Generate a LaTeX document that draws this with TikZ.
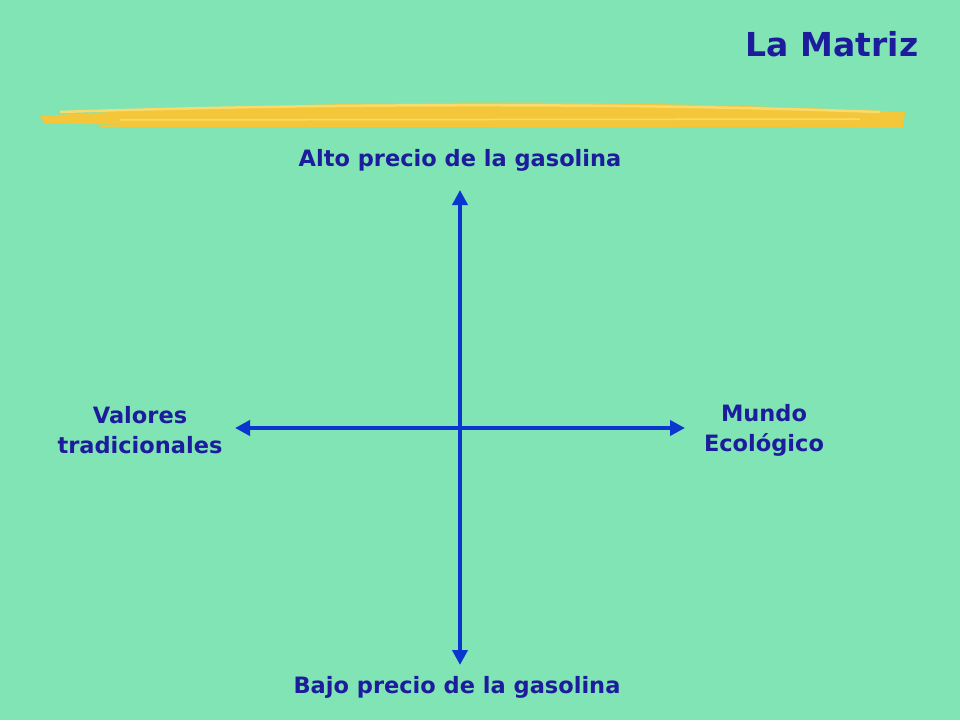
\documentclass[tikz,border=0pt]{standalone}
\usepackage{fontspec}
\setmainfont{DejaVu Sans}
\usetikzlibrary{arrows.meta}
\definecolor{bg}{HTML}{80E4B4}
\definecolor{txt}{HTML}{1C1C9C}
\definecolor{arr}{HTML}{0A36D0}
\definecolor{yel}{HTML}{F4C63A}
\definecolor{yel2}{HTML}{FADA6A}
\tikzset{lbl/.style={text=txt,font=\bfseries\fontsize{22.5}{30}\selectfont,align=center},
axis/.style={draw=arr,line width=4pt,-{Triangle[length=15pt,width=15pt]}}}
\begin{document}
\begin{tikzpicture}[x=1pt,y=-1pt]
\fill[bg] (0,0) rectangle (960,720);
\useasboundingbox (0,0) rectangle (960,720);
\node[lbl,font=\bfseries\fontsize{33}{40}\selectfont] (title) at (832,44) {La Matriz};
\fill[yel] (40,116) .. controls (300,100) and (600,98) .. (905,112) -- (903,128) .. controls (600,126) and (300,130) .. (44,123) -- cycle;
\draw[yel2,line width=2.5pt] (60,112) .. controls (300,104) and (600,102) .. (880,112);
\draw[yel2,line width=1.5pt] (120,120) -- (860,119);
\draw[yel,line width=2pt] (100,126) -- (850,125);
\node[lbl] (top) at (460,160) {Alto precio de la gasolina};
\node[lbl] (bot) at (457,687) {Bajo precio de la gasolina};
\node[lbl] (left) at (140,430) {Valores\\tradicionales};
\node[lbl] (right) at (764,430) {Mundo\\Ecológico};
\coordinate (c) at (460,428);
\coordinate (t) at (460,190);
\coordinate (b) at (460,665);
\coordinate (l) at (235,428);
\coordinate (r) at (685,428);
\draw[axis] (c) -- (t);
\draw[axis] (c) -- (b);
\draw[axis] (c) -- (l);
\draw[axis] (c) -- (r);
\end{tikzpicture}
\end{document}
